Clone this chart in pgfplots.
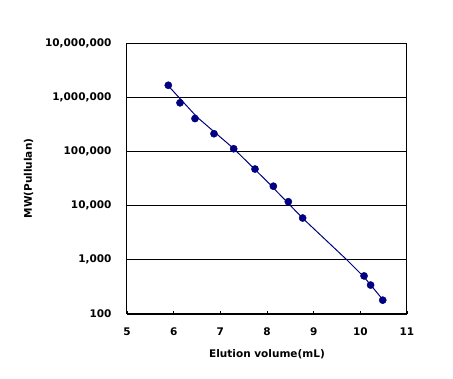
\documentclass[border=0pt]{standalone}
\usepackage{fontspec}
\setmainfont{DejaVu Sans}
\usepackage{pgfplots}
\pgfplotsset{compat=1.18}
\definecolor{navy}{HTML}{000080}
\begin{document}
\begin{tikzpicture}[font=\bfseries]
\path[use as bounding box] (-127pt,-64pt) rectangle (326pt,314pt);
\begin{axis}[
  at={(0pt,0pt)}, anchor=south west,
  scale only axis, width=280pt, height=271pt,
  ymode=log, log basis y=10,
  xmin=5, xmax=11, ymin=100, ymax=10000000,
  xtick={5,6,7,8,9,10,11},
  ytick={100,1000,10000,100000,1000000,10000000},
  yticklabels={100,{1,000},{10,000},{100,000},{1,000,000},{10,000,000}},
  minor ytick={}, minor xtick={},
  ymajorgrids, grid style={black, line width=0.8pt},
  axis line style={black, line width=1pt},
  x tick style={black, line width=0.8pt}, major tick length=3pt,
  xtick pos=bottom, xtick align=inside,
  y tick style={draw=none},
  ytick pos=left,
  tick label style={font=\bfseries\fontsize{10.5}{12}\selectfont},
  x tick label style={yshift=-10pt},
  y tick label style={xshift=-12pt},
  /pgf/number format/assume math mode=true,
  xticklabels={5,6,7,8,9,10,11},
  xlabel={Elution volume(mL)}, ylabel={MW(Pullulan)},
  label style={font=\bfseries\fontsize{10.5}{12}\selectfont},
  xlabel style={yshift=-7pt},
  ylabel style={yshift=5pt},
]
\addplot[navy, line width=1pt, no marks] coordinates {
(5.885,1620000) (6.5,430000) (7.29,112000) (8.0,28000) (8.76,5900) (9.71,1000) (10.08,480) (10.48,185)
};
\addplot[only marks, mark=*, mark size=3.6pt, navy, mark options={fill=navy, draw=navy}] coordinates {
(5.885,1660000) (6.136,788000) (6.457,404000) (6.864,212000) (7.286,112000)
(7.743,47300) (8.136,22800) (8.457,11800) (8.764,5900)
(10.08,504) (10.22,342) (10.48,180)
};
\end{axis}
\end{tikzpicture}
\end{document}
